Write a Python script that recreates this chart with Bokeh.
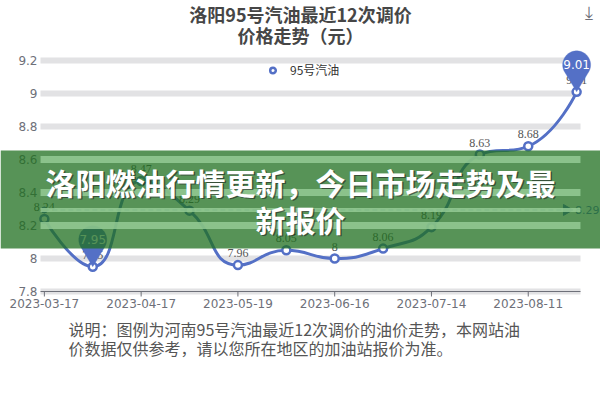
import numpy as np
from bokeh.plotting import figure
from bokeh.models import (Range1d, PolyAnnotation, Label, LabelSet, Legend, LegendItem,
                          ColumnDataSource, BoxAnnotation)
from bokeh.core.properties import value
from bokeh.embed import file_html
from bokeh.resources import INLINE

# ---------------- data ----------------
dates = ["2023-03-17", "2023-03-31", "2023-04-17", "2023-05-05", "2023-05-19", "2023-06-02",
         "2023-06-16", "2023-06-30", "2023-07-14", "2023-07-28", "2023-08-11", "2023-08-25"]
prices = [8.24, 7.95, 8.47, 8.29, 7.96, 8.05, 8.00, 8.06, 8.19, 8.63, 8.68, 9.01]
y_ticks = [7.8, 8.0, 8.2, 8.4, 8.6, 8.8, 9.0, 9.2]
y_tick_labels = ["7.8", "8", "8.2", "8.4", "8.6", "8.8", "9", "9.2"]
x_tick_index = [0, 2, 4, 6, 8, 10]
series_name = "95号汽油"
title_lines = ["洛阳95号汽油最近12次调价", "价格走势（元）"]
banner_lines = ["洛阳燃油行情更新，今日市场走势及最", "新报价"]
note_lines = ["说明：图例为河南95号汽油最近12次调价的油价走势，本网站油",
              "价数据仅供参考，请以您所在地区的加油站报价为准。"]

# ---------------- layout (page pixels -> data units) ----------------
BLUE = "#5470c6"
AXC = "#6e7079"
CJK = "Noto Sans CJK SC"
LAT = "DejaVu Sans"
W, H = 600, 400
GRID_L, GRID_R = 40, 580          # plot-area pixels
GX0, GX1 = -0.08, 11.08           # category extent of the plot area
SX = (GRID_R - GRID_L) / (GX1 - GX0)
Y_MIN, Y_MAX = 7.8, 9.2
PY_MIN, PY_MAX = 291, 60
SY = (PY_MIN - PY_MAX) / (Y_MAX - Y_MIN)


def dx(page_x):
    return GX0 + (page_x - GRID_L) / SX


def dy(page_y):
    return Y_MIN + (PY_MIN - page_y) / SY


p = figure(width=W, height=H, x_range=Range1d(dx(0), dx(W)), y_range=Range1d(dy(H), dy(0)),
           output_backend="svg", toolbar_location=None, min_border=0)
p.min_border_left = p.min_border_right = p.min_border_top = p.min_border_bottom = 0
p.outline_line_color = None
p.background_fill_color = "white"
p.border_fill_color = "white"
p.axis.visible = False
p.grid.visible = False

# ---------------- grid and axes (drawn through the data scales) ----------------
n_t = len(y_ticks)
p.segment(x0=[GX0] * n_t, x1=[GX1] * n_t, y0=y_ticks, y1=y_ticks, line_color="#e2e2e4", line_width=6)
p.text(x=[dx(37)] * n_t, y=y_ticks, text=y_tick_labels, text_align="right", text_baseline="middle",
       text_font=value(LAT), text_font_size="12px", text_color=AXC)
p.segment(x0=[GX0], x1=[GX1], y0=[Y_MIN], y1=[Y_MIN], line_color=AXC, line_width=1)
p.segment(x0=x_tick_index, x1=x_tick_index, y0=[Y_MIN] * len(x_tick_index),
          y1=[dy(PY_MIN + 5)] * len(x_tick_index), line_color=AXC, line_width=1)
p.text(x=x_tick_index, y=[dy(303)] * len(x_tick_index), text=[dates[i] for i in x_tick_index],
       text_align="center", text_baseline="middle", text_font=value(LAT), text_font_size="12px",
       text_color=AXC)

# ---------------- smooth line (ECharts-like smoothing) ----------------
xs = np.arange(len(prices), dtype=float)
ys = np.array(prices, dtype=float)
px = xs * SX
py = ys * SY
smooth = 0.5
segs = []
cpx0, cpy0 = px[0], py[0]
n = len(px)
for i in range(1, n):
    x, y = px[i], py[i]
    prevX, prevY = px[i - 1], py[i - 1]
    if i == n - 1:
        cpx1, cpy1 = x, y
        ncx, ncy = x, y
    else:
        nextX, nextY = px[i + 1], py[i + 1]
        vx, vy = nextX - prevX, nextY - prevY
        lp = np.hypot(x - prevX, y - prevY)
        ln = np.hypot(nextX - x, nextY - y)
        r = ln / (ln + lp)
        ncx = x + vx * smooth * r
        ncy = y + vy * smooth * r
        ncx = min(ncx, max(nextX, x)); ncy = min(ncy, max(nextY, y))
        ncx = max(ncx, min(nextX, x)); ncy = max(ncy, min(nextY, y))
        vx, vy = ncx - x, ncy - y
        cpx1 = x - vx * lp / ln; cpy1 = y - vy * lp / ln
        cpx1 = min(cpx1, max(prevX, x)); cpy1 = min(cpy1, max(prevY, y))
        cpx1 = max(cpx1, min(prevX, x)); cpy1 = max(cpy1, min(prevY, y))
        vx, vy = x - cpx1, y - cpy1
        ncx = x + vx * ln / lp; ncy = y + vy * ln / lp
    segs.append((prevX, prevY, x, y, cpx0, cpy0, cpx1, cpy1))
    cpx0, cpy0 = ncx, ncy
segs = np.array(segs)
bez = ColumnDataSource(dict(x0=segs[:, 0] / SX, y0=segs[:, 1] / SY, x1=segs[:, 2] / SX, y1=segs[:, 3] / SY,
                            cx0=segs[:, 4] / SX, cy0=segs[:, 5] / SY, cx1=segs[:, 6] / SX, cy1=segs[:, 7] / SY))
p.bezier(x0="x0", y0="y0", x1="x1", y1="y1", cx0="cx0", cy0="cy0", cx1="cx1", cy1="cy1",
         source=bez, line_color=BLUE, line_width=3)

# ---------------- average mark line ----------------
avg = float(np.mean(ys))
arrow_x = xs[-1] - 10 / SX
p.line([xs[0], arrow_x], [avg, avg], line_color=BLUE, line_width=1.5, line_dash="5 3")
p.scatter([xs[0]], [avg], marker="circle", size=6, fill_color=BLUE, line_color=BLUE)
p.scatter([arrow_x], [avg], marker="triangle", size=11, angle=-np.pi / 2, fill_color=BLUE, line_color=BLUE)
p.text(x=[dx(599)], y=[avg], text=[f"{avg:.2f}"], text_align="right", text_baseline="middle",
       text_font=value(LAT), text_font_size="11px", text_color=BLUE)

# ---------------- points and labels ----------------
src = ColumnDataSource(dict(x=xs, y=ys, lab=[f"{v:g}" for v in prices]))
pts = p.scatter("x", "y", source=src, marker="circle", size=8, fill_color="white",
                line_color=BLUE, line_width=2.5)
p.add_layout(LabelSet(x="x", y="y", text="lab", source=src, y_offset=8, text_align="center",
                      text_baseline="bottom", text_font=LAT, text_font_size="12px", text_color="#555555"))

# ---------------- legend ----------------
leg_line = p.line(x=[], y=[], line_color=BLUE, line_width=3)
legend = Legend(items=[LegendItem(label=series_name, renderers=[leg_line, pts])],
                location=(260, H - 71 - 7), orientation="horizontal", border_line_color=None,
                background_fill_alpha=0, padding=0, margin=0, glyph_width=25, glyph_height=14,
                label_height=14, label_standoff=5, label_text_font=CJK, label_text_font_size="12px",
                label_text_color="#333333")
p.add_layout(legend)

# ---------------- pins (max / min) ----------------
R_PIN, D_PIN = 14.0, 27.0
beta = np.degrees(np.arccos(R_PIN / D_PIN))
angs = np.radians(np.linspace(-90 + beta, 270 - beta, 40))
pin_dx = np.concatenate([R_PIN * np.cos(angs), [0.0]])
pin_dy = np.concatenate([D_PIN + R_PIN * np.sin(angs), [0.0]])
for idx in (int(np.argmax(ys)), int(np.argmin(ys))):
    p.add_layout(PolyAnnotation(xs=list(xs[idx] + pin_dx / SX), ys=list(ys[idx] + pin_dy / SY),
                                fill_color=BLUE, fill_alpha=1, line_color=BLUE, line_width=1))
    p.add_layout(Label(x=xs[idx], y=ys[idx] + D_PIN / SY, text=f"{prices[idx]:g}", text_align="center",
                       text_baseline="middle", text_font=LAT, text_font_size="12px", text_color="white"))

# ---------------- title ----------------
for k, t in enumerate(title_lines):
    p.add_layout(Label(x=dx(300), y=dy(13 + 21 * k), text=t, text_align="center", text_baseline="middle",
                       text_font=CJK, text_font_size="18px", text_font_style="bold", text_color="#464646"))

# top-right toolbox icon (save image)
p.add_layout(Label(x=dx(588), y=dy(12), text="⤓", text_align="center", text_baseline="middle",
                   text_font=LAT, text_font_size="18px", text_color="#6e7079"))

# ---------------- note ----------------
for k, t in enumerate(note_lines):
    p.add_layout(Label(x=dx(68), y=dy(328 + 19 * k), text=t, text_align="left", text_baseline="middle",
                       text_font=CJK, text_font_size="16px", text_color="#555555"))

# ---------------- banner overlay ----------------
b_top, b_bot = dy(150), dy(248)
p.add_layout(BoxAnnotation(left=dx(0), right=dx(W), top=b_top, bottom=b_bot, fill_color="#1f6f1f",
                           fill_alpha=0.75, line_alpha=0, level="overlay"))
for t in y_ticks + [avg]:
    if b_bot < t < b_top:
        h = 3.5 if t != avg else 2.0
        p.add_layout(BoxAnnotation(left=GX0, right=GX1, top=t + h / SY, bottom=t - h / SY,
                                   fill_color="#9ad09a", fill_alpha=0.8, line_alpha=0, level="overlay"))
for k, t in enumerate(banner_lines):
    yy = dy(181 + 37 * k)
    p.add_layout(Label(x=dx(300), y=yy, x_offset=1.5, y_offset=-1.5, text=t, text_align="center",
                       text_baseline="middle", text_font=CJK, text_font_size="30px", text_font_style="bold",
                       text_color="#222222", text_alpha=0.6, level="overlay"))
    p.add_layout(Label(x=dx(300), y=yy, text=t, text_align="center", text_baseline="middle",
                       text_font=CJK, text_font_size="30px", text_font_style="bold", text_color="white",
                       level="overlay"))

open("out.html", "w").write(file_html(p, INLINE))
